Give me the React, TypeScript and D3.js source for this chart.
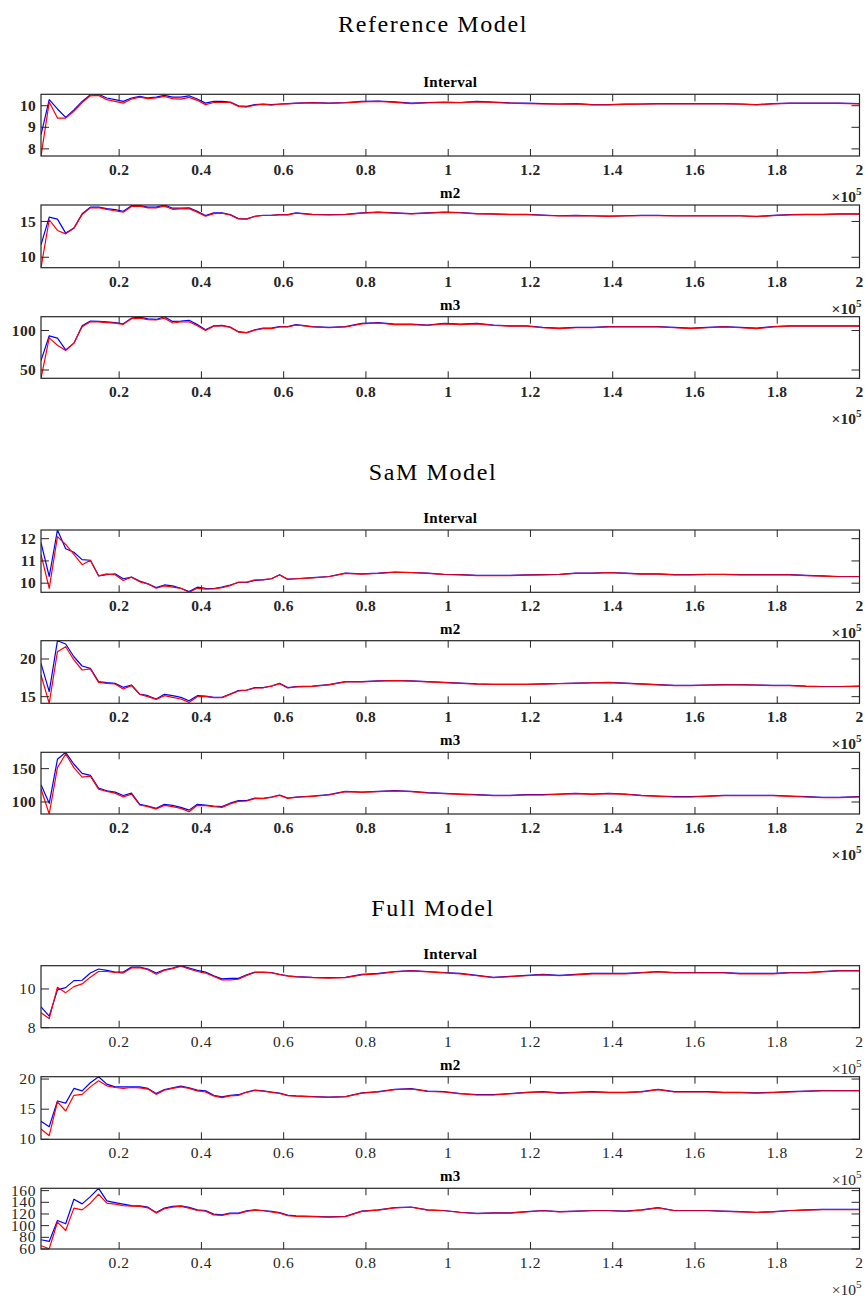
import React from "react";
import * as d3 from "d3";

// ---------- DATA ----------
// sample positions (iterations)
const X_SAMPLES: number[] = [
  ...d3.range(1000, 64000, 2000),
  ...d3.range(67000, 196000, 4000),
  200000,
];
const X_TICKS = [20000, 40000, 60000, 80000, 100000, 120000, 140000, 160000, 180000, 200000];
const X_TICK_LABELS = ["0.2", "0.4", "0.6", "0.8", "1", "1.2", "1.4", "1.6", "1.8", "2"];

const GROUP_TITLES = ["Reference Model", "SaM Model", "Full Model"];
const PANEL_TITLES = ["Interval", "m2", "m3"];

// Reference Model
const refIntervalBlue = [8.65, 10.28, 9.85, 9.46, 9.81, 10.2, 10.51, 10.53, 10.36, 10.28, 10.2, 10.36, 10.43, 10.36, 10.4, 10.48, 10.4, 10.4, 10.46, 10.31, 10.12, 10.2, 10.2, 10.17, 10.0, 9.97, 10.05, 10.08, 10.05, 10.08, 10.1, 10.12,
  10.15, 10.12, 10.15, 10.2, 10.22, 10.18, 10.12, 10.15, 10.17, 10.15, 10.2, 10.17, 10.13, 10.12, 10.1, 10.08, 10.1, 10.05, 10.05, 10.07, 10.08, 10.1, 10.1, 10.1, 10.1, 10.1, 10.08, 10.05, 10.1, 10.12, 10.12, 10.12, 10.12, 10.1];
const refIntervalRed = [7.67, 10.17, 9.43, 9.43, 9.74, 10.15, 10.46, 10.48, 10.28, 10.2, 10.12, 10.31, 10.4, 10.33, 10.36, 10.43, 10.33, 10.31, 10.39, 10.25, 10.05, 10.15, 10.15, 10.15, 9.97, 9.94, 10.03, 10.06, 10.03, 10.07, 10.09, 10.11,
  10.13, 10.11, 10.13, 10.18, 10.2, 10.16, 10.1, 10.13, 10.15, 10.14, 10.18, 10.15, 10.12, 10.1, 10.08, 10.07, 10.09, 10.04, 10.04, 10.06, 10.07, 10.09, 10.09, 10.09, 10.09, 10.09, 10.07, 10.04, 10.09, 10.11, 10.11, 10.11, 10.11, 10.09];
const refM2Blue = [11.73, 15.6, 15.33, 13.37, 14.07, 16.08, 17.0, 17.0, 16.8, 16.66, 16.43, 17.2, 17.2, 17.0, 17.0, 17.3, 16.85, 16.85, 16.9, 16.43, 15.82, 16.2, 16.2, 15.96, 15.4, 15.36, 15.73, 15.87, 15.87, 15.96, 15.96, 16.2,
  16.0, 15.95, 16.0, 16.2, 16.3, 16.2, 16.1, 16.2, 16.3, 16.25, 16.1, 16.05, 16.0, 16.0, 15.9, 15.8, 15.85, 15.8, 15.75, 15.8, 15.85, 15.85, 15.8, 15.8, 15.8, 15.8, 15.8, 15.7, 15.85, 15.95, 16.0, 16.0, 16.05, 16.05];
const refM2Red = [8.54, 15.24, 13.74, 13.27, 14.07, 15.96, 16.9, 16.94, 16.7, 16.5, 16.3, 17.1, 17.15, 16.9, 16.9, 17.15, 16.7, 16.75, 16.8, 16.3, 15.73, 16.1, 16.15, 15.9, 15.35, 15.32, 15.7, 15.83, 15.84, 15.92, 15.93, 16.15,
  15.96, 15.92, 15.96, 16.16, 16.26, 16.16, 16.06, 16.16, 16.26, 16.21, 16.06, 16.01, 15.96, 15.96, 15.86, 15.76, 15.81, 15.76, 15.71, 15.76, 15.81, 15.81, 15.76, 15.76, 15.76, 15.76, 15.76, 15.66, 15.81, 15.91, 15.96, 15.96, 16.01, 16.01];
const refM3Blue = [61.9, 93.3, 90.3, 75.5, 84, 106, 112, 111.5, 111, 110, 108.6, 115.7, 117, 114.7, 114, 117.5, 111.5, 112, 113, 107.5, 101, 106, 106.5, 104.5, 98.5, 97.5, 101, 103, 103, 105, 105, 107.5,
  105, 104, 105, 109, 110, 108, 108, 107, 109, 108, 109, 107, 106, 106, 104, 103, 104, 104, 105, 105, 105, 105, 104, 103, 104, 105, 104, 103, 105, 106, 106, 106, 106, 106];
const refM3Red = [39.5, 90.7, 81.4, 74.6, 84, 104.7, 111, 111, 110, 109.3, 107.8, 115, 115.5, 113.8, 113.3, 115.5, 109.5, 110.8, 111, 106, 100.2, 105.5, 106, 104, 98, 97, 100.5, 102.5, 102.5, 104.5, 104.5, 107,
  104.5, 103.5, 104.5, 108.5, 109.5, 107.5, 107.5, 106.5, 108.5, 107.5, 108.5, 106.5, 105.5, 105.5, 103.5, 102.5, 103.5, 103.5, 104.5, 104.5, 104.5, 104.5, 103.5, 102.5, 103.5, 104.5, 103.5, 102.5, 104.5, 105.5, 105.5, 105.5, 105.5, 105.5];

// SaM Model
const samIntervalBlue = [11.82, 10.3, 12.39, 11.55, 11.39, 11.06, 11.03, 10.33, 10.38, 10.42, 10.2, 10.27, 10.1, 9.97, 9.8, 9.92, 9.88, 9.77, 9.62, 9.82, 9.77, 9.76, 9.82, 9.92, 10.03, 10.03, 10.12, 10.15, 10.2, 10.38, 10.18, 10.2,
  10.25, 10.3, 10.45, 10.42, 10.45, 10.5, 10.48, 10.45, 10.4, 10.38, 10.35, 10.35, 10.35, 10.37, 10.38, 10.4, 10.45, 10.45, 10.48, 10.45, 10.42, 10.42, 10.38, 10.38, 10.4, 10.4, 10.38, 10.38, 10.38, 10.38, 10.35, 10.33, 10.3, 10.3];
const samIntervalRed = [11.29, 9.77, 12.09, 11.74, 11.29, 10.83, 11.03, 10.33, 10.42, 10.38, 10.12, 10.27, 10.06, 9.97, 9.77, 9.88, 9.82, 9.77, 9.59, 9.77, 9.73, 9.74, 9.8, 9.89, 10.05, 10.05, 10.15, 10.16, 10.2, 10.37, 10.17, 10.2,
  10.24, 10.29, 10.44, 10.41, 10.44, 10.49, 10.47, 10.44, 10.39, 10.37, 10.34, 10.34, 10.34, 10.36, 10.37, 10.39, 10.44, 10.44, 10.47, 10.44, 10.41, 10.41, 10.37, 10.37, 10.39, 10.39, 10.37, 10.37, 10.37, 10.37, 10.34, 10.32, 10.29, 10.29];
const samM2Blue = [19.43, 15.66, 22.43, 21.99, 20.3, 19.07, 18.76, 16.99, 16.86, 16.77, 16.24, 16.55, 15.35, 15.13, 14.69, 15.31, 15.13, 14.91, 14.46, 15.13, 15.09, 14.91, 14.91, 15.35, 15.8, 15.88, 16.2, 16.2, 16.42, 16.77, 16.2, 16.33,
  16.4, 16.6, 17.0, 17.0, 17.1, 17.15, 17.1, 17.0, 16.9, 16.8, 16.7, 16.65, 16.65, 16.65, 16.7, 16.75, 16.8, 16.85, 16.9, 16.8, 16.7, 16.6, 16.5, 16.5, 16.55, 16.6, 16.6, 16.55, 16.5, 16.5, 16.4, 16.35, 16.35, 16.4];
const samM2Red = [17.88, 14.12, 20.97, 21.63, 19.87, 18.54, 18.68, 16.9, 16.77, 16.68, 16.02, 16.46, 15.31, 15.0, 14.64, 15.13, 14.91, 14.69, 14.24, 15.0, 15.0, 14.87, 14.87, 15.31, 15.75, 15.85, 16.15, 16.18, 16.4, 16.72, 16.15, 16.3,
  16.37, 16.57, 16.97, 16.97, 17.07, 17.12, 17.07, 16.97, 16.87, 16.77, 16.67, 16.62, 16.62, 16.62, 16.67, 16.72, 16.77, 16.82, 16.87, 16.77, 16.67, 16.57, 16.47, 16.47, 16.52, 16.57, 16.57, 16.52, 16.47, 16.47, 16.37, 16.32, 16.32, 16.37];
const samM3Blue = [126, 98, 164, 174.5, 156.6, 142.8, 139.8, 121, 116.8, 114.8, 109.7, 113.3, 96.5, 94, 90.4, 96.5, 95, 92, 87.8, 96.5, 95.5, 94, 93, 98.2, 102, 102, 106, 105.5, 107.5, 110.5, 106, 107.5,
  109, 111, 116, 115, 116, 117, 116, 114, 113, 112, 111, 110, 110, 111, 111, 112, 113, 112, 113, 112, 110, 109, 108, 108, 109, 110, 110, 110, 110, 109, 108, 107, 107, 108];
const samM3Red = [119.4, 82, 151.5, 172, 151.5, 137.2, 138.7, 119.4, 115.8, 113.3, 107.6, 111.7, 95.5, 93, 89.4, 95, 93, 90.4, 85.3, 95, 94.5, 93, 92, 97.2, 101, 101.5, 105, 105, 107, 110, 105.5, 107,
  108.5, 110.5, 115.5, 114.5, 115.5, 116.5, 115.5, 113.5, 112.5, 111.5, 110.5, 109.5, 109.5, 110.5, 110.5, 111.5, 112.5, 111.5, 112.5, 111.5, 109.5, 108.5, 107.5, 107.5, 108.5, 109.5, 109.5, 109.5, 109.5, 108.5, 107.5, 106.5, 106.5, 107.5];

// Full Model
const fullIntervalBlue = [9.08, 8.6, 9.95, 10.07, 10.43, 10.45, 10.82, 11.03, 10.96, 10.87, 10.87, 11.13, 11.13, 11.03, 10.82, 10.99, 11.08, 11.2, 11.08, 10.96, 10.87, 10.68, 10.52, 10.55, 10.55, 10.73, 10.87, 10.87, 10.85, 10.76, 10.68, 10.64,
  10.6, 10.58, 10.6, 10.75, 10.8, 10.9, 10.95, 10.9, 10.85, 10.8, 10.7, 10.6, 10.65, 10.7, 10.75, 10.7, 10.75, 10.8, 10.8, 10.8, 10.85, 10.9, 10.85, 10.85, 10.85, 10.85, 10.8, 10.8, 10.8, 10.85, 10.85, 10.9, 10.95, 10.95];
const fullIntervalRed = [8.77, 8.47, 10.09, 9.81, 10.12, 10.26, 10.61, 10.9, 10.9, 10.85, 10.82, 11.08, 11.1, 10.99, 10.76, 10.96, 11.05, 11.17, 11.03, 10.9, 10.82, 10.64, 10.47, 10.47, 10.5, 10.7, 10.85, 10.85, 10.83, 10.74, 10.66, 10.62,
  10.58, 10.56, 10.58, 10.73, 10.78, 10.88, 10.93, 10.88, 10.83, 10.78, 10.68, 10.58, 10.63, 10.68, 10.73, 10.68, 10.73, 10.78, 10.78, 10.78, 10.83, 10.88, 10.83, 10.83, 10.83, 10.83, 10.78, 10.78, 10.78, 10.83, 10.83, 10.88, 10.93, 10.93];
const fullM2Blue = [13.0, 12.1, 16.36, 16.0, 18.44, 18.04, 19.38, 20.39, 19.16, 18.7, 18.7, 18.7, 18.7, 18.44, 17.6, 18.27, 18.55, 18.83, 18.55, 18.15, 18.04, 17.3, 17.04, 17.3, 17.4, 17.85, 18.15, 18.04, 17.85, 17.66, 17.3, 17.2,
  17.1, 17.0, 17.1, 17.7, 17.9, 18.3, 18.4, 18.0, 17.9, 17.6, 17.4, 17.4, 17.6, 17.8, 17.9, 17.7, 17.8, 17.9, 17.8, 17.8, 17.9, 18.3, 17.9, 17.9, 17.9, 17.8, 17.8, 17.7, 17.8, 17.9, 18.0, 18.1, 18.1, 18.1];
const fullM2Red = [11.73, 10.6, 16.2, 14.7, 17.3, 17.46, 18.7, 19.72, 18.88, 18.6, 18.44, 18.6, 18.55, 18.33, 17.46, 18.15, 18.44, 18.7, 18.44, 18.04, 17.85, 17.2, 16.93, 17.2, 17.3, 17.8, 18.1, 18.0, 17.8, 17.6, 17.25, 17.15,
  17.05, 16.95, 17.05, 17.65, 17.85, 18.25, 18.35, 17.95, 17.85, 17.55, 17.35, 17.35, 17.55, 17.75, 17.85, 17.65, 17.75, 17.85, 17.75, 17.75, 17.85, 18.25, 17.85, 17.85, 17.85, 17.75, 17.75, 17.65, 17.75, 17.85, 17.95, 18.05, 18.05, 18.05];
const fullM3Blue = [75.9, 73, 108.8, 103.2, 145.3, 137.3, 149.8, 164, 142.4, 139.5, 136.8, 134.4, 134, 131.7, 122.5, 130, 133, 134, 131.2, 127, 126, 119.7, 118.5, 121.5, 121.5, 125.5, 127, 126, 124.4, 122.5, 118, 117,
  116, 115, 116, 125, 127, 131, 132, 127, 126, 123, 121, 122, 122, 124, 126, 124, 125, 126, 126, 125, 127, 131, 126, 126, 126, 125, 124, 123, 124, 126, 127, 128, 128, 128];
const fullM3Red = [65.6, 60.5, 106, 91.7, 130, 127, 138.5, 153.8, 138.5, 136.8, 134.4, 133.3, 133, 130.5, 121.5, 129, 131.7, 133, 130, 126, 124.8, 118.5, 117.4, 120.5, 120.5, 124.5, 126.5, 125.5, 123.5, 121.5, 117, 116,
  115.5, 114.5, 115.5, 124.5, 126.5, 130.5, 131.5, 126.5, 125.5, 122.5, 120.5, 121.5, 121.5, 123.5, 125.5, 123.5, 124.5, 125.5, 125.5, 124.5, 126.5, 130.5, 125.5, 125.5, 125.5, 124.5, 123.5, 122.5, 123.5, 125.5, 126.5, 127.5, 127.5, 127.5];

const REF_Y_TICKS = [[8, 9, 10], [10, 15], [50, 100]];
const SAM_Y_TICKS = [[10, 11, 12], [15, 20], [100, 150]];
const FULL_Y_TICKS = [[8, 10], [10, 15, 20], [60, 80, 100, 120, 140, 160]];
const FULL_Y_MIN = [8, 10, 60];

// ---------- LAYOUT ----------
const W = 866;
const H = 1299;
const X0 = 41;
const X1 = 859.5;
const AXIS = "#262626";

type PanelSpec = {
  title: string;
  top: number;
  bottom: number;
  blue: number[];
  red: number[];
  yTicks: number[];
  yMin?: number;
  bold: boolean;
};

const groups = [
  {
    title: GROUP_TITLES[0],
    titleY: 32,
    bold: true,
    panels: [
      { top: 94.3, bottom: 156, blue: refIntervalBlue, red: refIntervalRed },
      { top: 205, bottom: 267.7, blue: refM2Blue, red: refM2Red },
      { top: 316.7, bottom: 378.3, blue: refM3Blue, red: refM3Red },
    ],
    yTicks: REF_Y_TICKS,
    yMin: [undefined, undefined, undefined] as (number | undefined)[],
  },
  {
    title: GROUP_TITLES[1],
    titleY: 480,
    bold: true,
    panels: [
      { top: 530, bottom: 592.3, blue: samIntervalBlue, red: samIntervalRed },
      { top: 640.7, bottom: 703.3, blue: samM2Blue, red: samM2Red },
      { top: 752.3, bottom: 814, blue: samM3Blue, red: samM3Red },
    ],
    yTicks: SAM_Y_TICKS,
    yMin: [undefined, undefined, undefined] as (number | undefined)[],
  },
  {
    title: GROUP_TITLES[2],
    titleY: 916,
    bold: false,
    panels: [
      { top: 965.7, bottom: 1027.7, blue: fullIntervalBlue, red: fullIntervalRed },
      { top: 1076.7, bottom: 1139.3, blue: fullM2Blue, red: fullM2Red },
      { top: 1188.3, bottom: 1249, blue: fullM3Blue, red: fullM3Red },
    ],
    yTicks: FULL_Y_TICKS,
    yMin: FULL_Y_MIN as (number | undefined)[],
  },
];

const xScale = d3.scaleLinear().domain([1000, 200000]).range([X0, X1]);

function Panel({ p }: { p: PanelSpec }) {
  const all = [...p.blue, ...p.red];
  const ext = d3.extent(all) as [number, number];
  const y = d3
    .scaleLinear()
    .domain([p.yMin !== undefined ? p.yMin : ext[0], ext[1]])
    .range([p.bottom, p.top]);
  const line = d3
    .line<number>()
    .x((_, i) => xScale(X_SAMPLES[i]))
    .y((d) => y(d));
  const fw = p.bold ? "bold" : "normal";
  const tl = 7;
  const fs = p.bold ? 15.5 : 15.5;
  const ls = p.bold ? 0.3 : 0.6;
  return (
    <g>
      <text
        x={(X0 + X1) / 2}
        y={p.top - 7}
        textAnchor="middle"
        fontFamily="Liberation Serif"
        fontWeight="bold"
        fontSize={15}
        letterSpacing={0.3}
        fill="#000"
      >
        {p.title}
      </text>
      <defs>
        <clipPath id={`clip-${p.top}`}>
          <rect x={X0} y={p.top} width={X1 - X0} height={p.bottom - p.top} />
        </clipPath>
      </defs>
      <g clipPath={`url(#clip-${p.top})`}>
        <path d={line(p.blue) || ""} fill="none" stroke="#0000ff" strokeWidth={1.2} strokeLinejoin="round" />
        <path d={line(p.red) || ""} fill="none" stroke="#ff0000" strokeWidth={1.2} strokeLinejoin="round" />
      </g>
      {X_TICKS.map((t, i) => (
        <g key={t}>
          <line x1={xScale(t)} x2={xScale(t)} y1={p.bottom} y2={p.bottom - tl} stroke={AXIS} strokeWidth={1} />
          <line x1={xScale(t)} x2={xScale(t)} y1={p.top} y2={p.top + tl} stroke={AXIS} strokeWidth={1} />
          <text
            x={xScale(t)}
            y={p.bottom + 19}
            textAnchor="middle"
            fontFamily="Liberation Serif"
            fontWeight={fw}
            fontSize={fs}
            letterSpacing={ls}
            fill={AXIS}
          >
            {X_TICK_LABELS[i]}
          </text>
        </g>
      ))}
      {p.yTicks.map((t) => (
        <g key={t}>
          <line x1={X0} x2={X0 + 8} y1={y(t)} y2={y(t)} stroke={AXIS} strokeWidth={1} />
          <line x1={X1} x2={X1 - 8} y1={y(t)} y2={y(t)} stroke={AXIS} strokeWidth={1} />
          <text
            x={X0 - 5}
            y={y(t)}
            dy="0.33em"
            textAnchor="end"
            fontFamily="Liberation Serif"
            fontWeight={fw}
            fontSize={fs}
            letterSpacing={ls}
            fill={AXIS}
          >
            {t}
          </text>
        </g>
      ))}
      <rect x={X0} y={p.top} width={X1 - X0} height={p.bottom - p.top} fill="none" stroke={AXIS} strokeWidth={1.2} />
      <text
        x={X1 + 2}
        y={p.bottom + 46}
        textAnchor="end"
        fontFamily="Liberation Serif"
        fontWeight={fw}
        fontSize={fs}
        fill={AXIS}
      >
        <tspan>×10</tspan>
        <tspan dy={-7} fontSize={fs * 0.72}>5</tspan>
      </text>
    </g>
  );
}

export default function App() {
  return (
    <svg
      width={W}
      height={H}
      viewBox={`0 0 ${W} ${H}`}
      style={{ position: "absolute", left: 0, top: 0, background: "#fff" }}
    >
      <rect x={0} y={0} width={W} height={H} fill="#fff" />
      {groups.map((g) => (
        <g key={g.title}>
          <text
            x={433}
            y={g.titleY}
            textAnchor="middle"
            fontFamily="Liberation Serif"
            fontSize={24}
            letterSpacing={1.6}
            fill="#000"
          >
            {g.title}
          </text>
          {g.panels.map((pp, i) => (
            <Panel
              key={i}
              p={{
                title: PANEL_TITLES[i],
                top: pp.top,
                bottom: pp.bottom,
                blue: pp.blue,
                red: pp.red,
                yTicks: g.yTicks[i],
                yMin: g.yMin[i],
                bold: g.bold,
              }}
            />
          ))}
        </g>
      ))}
    </svg>
  );
}
